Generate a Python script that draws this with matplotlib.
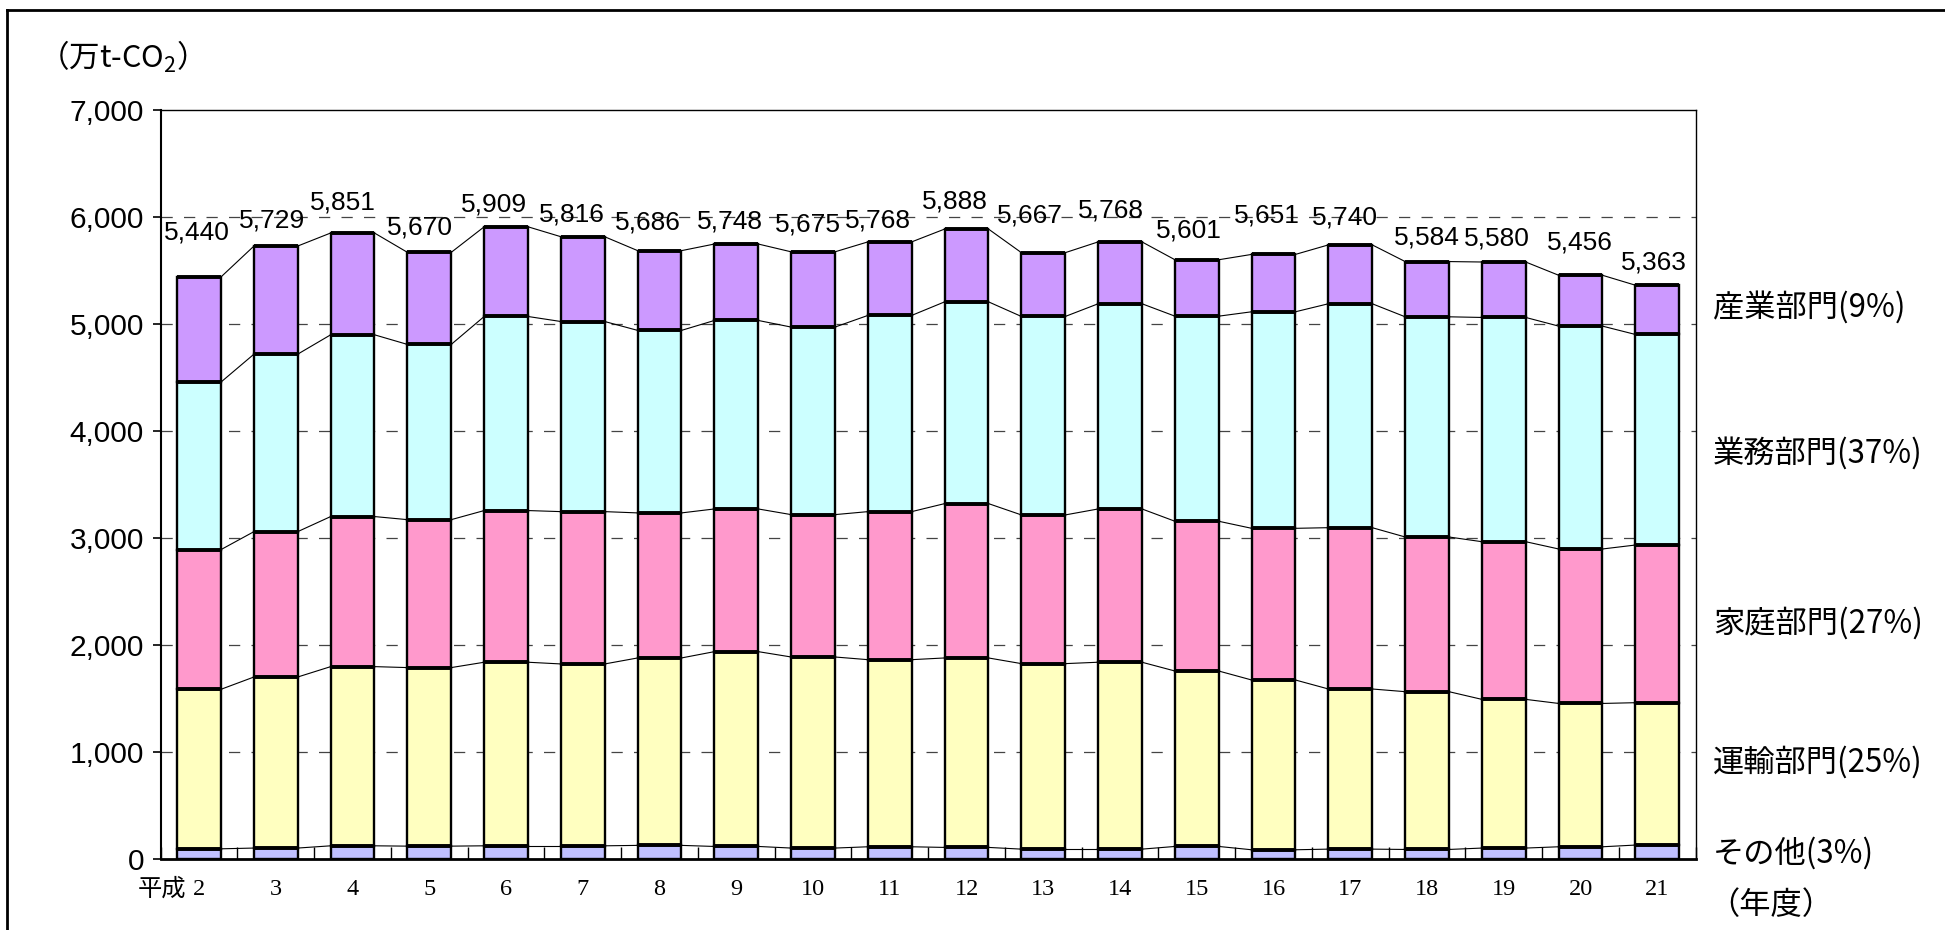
import matplotlib
matplotlib.use("Agg")
import matplotlib.pyplot as plt
from matplotlib.lines import Line2D
import numpy as np

# 年度 (平成) and sector emissions, 万t-CO2
years = ["2", "3", "4", "5", "6", "7", "8", "9", "10", "11",
         "12", "13", "14", "15", "16", "17", "18", "19", "20", "21"]
other = [98, 105, 126, 123, 126, 126, 130, 120, 105, 117,
         111, 95, 95, 120, 89, 95, 92, 105, 117, 133]
transport = [1490, 1598, 1674, 1668, 1715, 1699, 1751, 1820, 1785, 1748,
             1770, 1733, 1746, 1639, 1586, 1496, 1474, 1389, 1339, 1330]
household = [1305, 1358, 1402, 1382, 1417, 1423, 1355, 1333, 1330, 1383,
             1442, 1389, 1432, 1399, 1417, 1507, 1445, 1473, 1443, 1473]
business = [1565, 1658, 1698, 1637, 1813, 1776, 1705, 1761, 1752, 1833,
            1885, 1854, 1917, 1916, 2023, 2092, 2057, 2095, 2082, 1967]
industry = [982, 1010, 951, 860, 838, 792, 745, 714, 703, 687,
            680, 596, 578, 527, 536, 550, 516, 518, 475, 460]

sector_labels = ["その他(3%)", "運輸部門(25%)", "家庭部門(27%)",
                 "業務部門(37%)", "産業部門(9%)"]

series = [other, transport, household, business, industry]
colors = ["#C0C0FF", "#FFFFC0", "#FF99CC", "#CCFFFF", "#CC99FF"]

# hand-placed total labels (pixel nudges)
lab_dx = [-2, -4, -10, -9, -12, -11, -12, -6, -5, -12,
          -12, -13, -9, -8, -7, -5, 0, -7, -1, -3]
lab_dy = [32, 14, 18, 13, 10, 10, 16, 11, 15, 9,
          16, 25, 19, 17, 27, 15, 12, 12, 21, 11]

plt.rcParams["mathtext.fontset"] = "custom"
plt.rcParams["mathtext.rm"] = "Noto Sans CJK JP"

sans = ["Liberation Sans", "Noto Sans CJK JP", "DejaVu Sans"]
cjk = ["Noto Sans CJK JP", "DejaVu Sans"]
serif = ["Liberation Serif", "Noto Sans CJK JP"]

W, H = 1945, 930
fig = plt.figure(figsize=(W / 100, H / 100), dpi=100)
ax = fig.add_axes([160.7 / W, 1 - 859.3 / H, (1695.7 - 160.7) / W, (859.3 - 110) / H])

x = np.arange(len(years))
bw = 0.57
data = np.array(series, dtype=float)
tops = np.cumsum(data, axis=0)
bottoms = tops - data

# dashed grid behind bars
for gv in range(1000, 7000, 1000):
    ax.axhline(gv, color="#444444", lw=0.9, ls=(0, (9, 9)), zorder=0)

for i in range(len(series)):
    ax.bar(x, data[i], bw, bottom=bottoms[i], color=colors[i],
           edgecolor="black", linewidth=1.7, zorder=2)
    # heavier line on each segment top
    ax.hlines(tops[i], x - bw / 2, x + bw / 2, color="black", lw=2.8, zorder=3)
    # series lines joining segment tops
    for j in range(len(x) - 1):
        ax.plot([x[j] + bw / 2, x[j + 1] - bw / 2], [tops[i][j], tops[i][j + 1]],
                color="black", lw=0.8, zorder=1)

totals = tops[-1]
for j in range(len(x)):
    ax.annotate(f"{int(round(totals[j])):,}", xy=(x[j], totals[j]),
                xytext=(lab_dx[j] * 0.72, lab_dy[j] * 0.72), textcoords="offset points",
                ha="center", va="bottom", fontsize=19, family=sans)

ax.set_xlim(-0.5, len(years) - 0.5)
ax.set_ylim(0, 7000)
ax.set_yticks(range(0, 7001, 1000))
ax.set_yticklabels([f"{v:,}" for v in range(0, 7001, 1000)], family=sans, fontsize=21.5)
ax.tick_params(axis="y", direction="out", length=6, width=1.2, pad=6)

ax.set_xticks(x)
ax.set_xticklabels(years, family=serif, fontsize=17.5)
ax.tick_params(axis="x", which="major", length=0, pad=14)
ax.set_xticks(np.arange(-0.5, len(years)), minor=True)
ax.tick_params(axis="x", which="minor", direction="in", length=9, width=1)

ax.annotate("平成", xy=(0, 0), xycoords=("data", "axes fraction"),
            xytext=(-9, -14), textcoords="offset points",
            ha="right", va="top", fontsize=17.5, family=serif)

for side in ["top", "right"]:
    ax.spines[side].set_linewidth(1.0)
ax.spines["left"].set_linewidth(1.5)
ax.spines["bottom"].set_linewidth(2.0)

# sector names at the right
label_y = [853, 762, 623, 453, 307]
for name, py in zip(sector_labels, label_y):
    fig.text(1713 / W, 1 - py / H, name, ha="left", va="center",
             fontsize=22.5, family=cjk)

fig.text(1708 / W, 1 - 905 / H, "（年度）", ha="left", va="center",
         fontsize=22.5, family=cjk)
fig.text(38 / W, 1 - 57 / H, "（万t-CO$_2$）", ha="left", va="center",
         fontsize=22, family=cjk)

# outer frame (runs off the right and bottom edges)
fig.add_artist(Line2D([7 / W, 7 / W], [1 - 10 / H, 0], transform=fig.transFigure,
                      color="black", lw=2))
fig.add_artist(Line2D([7 / W, 1], [1 - 10 / H, 1 - 10 / H], transform=fig.transFigure,
                      color="black", lw=2))

fig.savefig("out.png", dpi=100, facecolor="white")
